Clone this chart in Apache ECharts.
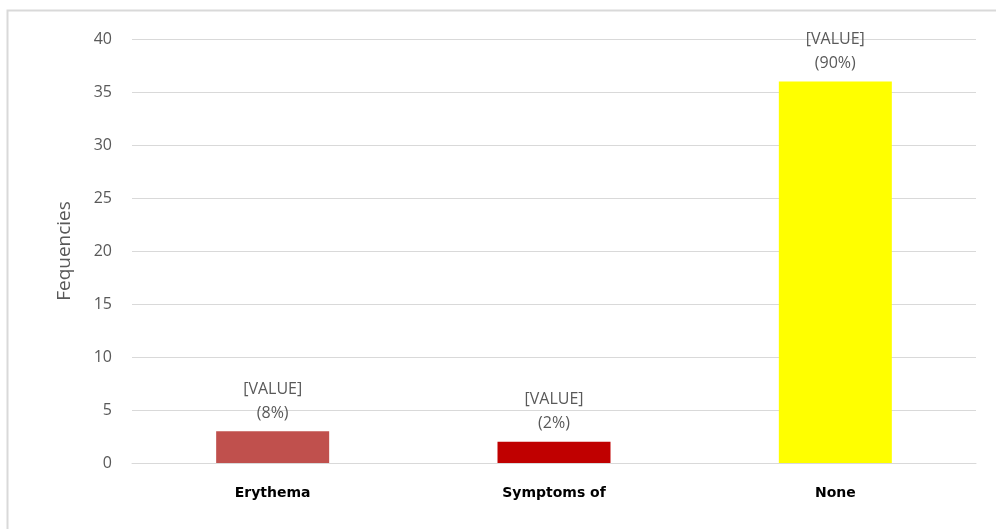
<!DOCTYPE html>
<html>
<head>
<meta charset="utf-8">
<script src="https://cdn.jsdelivr.net/npm/echarts@6/dist/echarts.min.js"></script>
<style>
  html, body { margin: 0; padding: 0; background: #fff; }
  #chartsDom { width: 996px; height: 529px; }
</style>
</head>
<body>
<div id="chartsDom"></div>
<script>
// data
const categories = ["Erythema", "Symptoms of", "None"];
const values = [3, 2, 36];
const percents = ["8%", "2%", "90%"];
const barColors = ["#c0504d", "#c00000", "#ffff00"];
const yTicks = { min: 0, max: 40, interval: 5 };

const myChart = echarts.init(document.getElementById("chartsDom"));

const option = {
  animation: false,
  backgroundColor: "#fff",
  // frame of the original picture: only left and top edges are visible
  graphic: [
    {
      type: "polyline",
      shape: { points: [[7.5, 529], [7.5, 10.5], [996, 10.5]] },
      style: { fill: "none", stroke: "#d9d9d9", lineWidth: 2 },
      silent: true
    }
  ],
  grid: { left: 132, right: 20, top: 39, bottom: 66 },
  xAxis: {
    type: "category",
    data: categories,
    axisTick: { show: false },
    axisLine: { lineStyle: { color: "#d9d9d9" } },
    axisLabel: {
      color: "#000",
      fontWeight: "bold",
      fontSize: 14,
      fontFamily: "DejaVu Sans",
      margin: 23
    }
  },
  yAxis: {
    type: "value",
    min: yTicks.min,
    max: yTicks.max,
    interval: yTicks.interval,
    name: "Fequencies",
    nameLocation: "middle",
    nameGap: 58,
    nameTextStyle: { color: "#595959", fontSize: 19, fontFamily: "Open Sans" },
    axisLine: { show: false },
    axisTick: { show: false },
    axisLabel: { color: "#595959", fontSize: 16, fontFamily: "Open Sans", margin: 20 },
    splitLine: { lineStyle: { color: "#d9d9d9" } }
  },
  series: [
    {
      type: "bar",
      barWidth: 113,
      data: values.map((v, i) => ({ value: v, itemStyle: { color: barColors[i] } })),
      label: {
        show: true,
        position: "top",
        distance: 6,
        color: "#595959",
        fontSize: 16,
        fontFamily: "Open Sans",
        lineHeight: 24,
        formatter: p => "[VALUE]\n(" + percents[p.dataIndex] + ")"
      }
    }
  ]
};
myChart.setOption(option);
</script>
</body>
</html>
